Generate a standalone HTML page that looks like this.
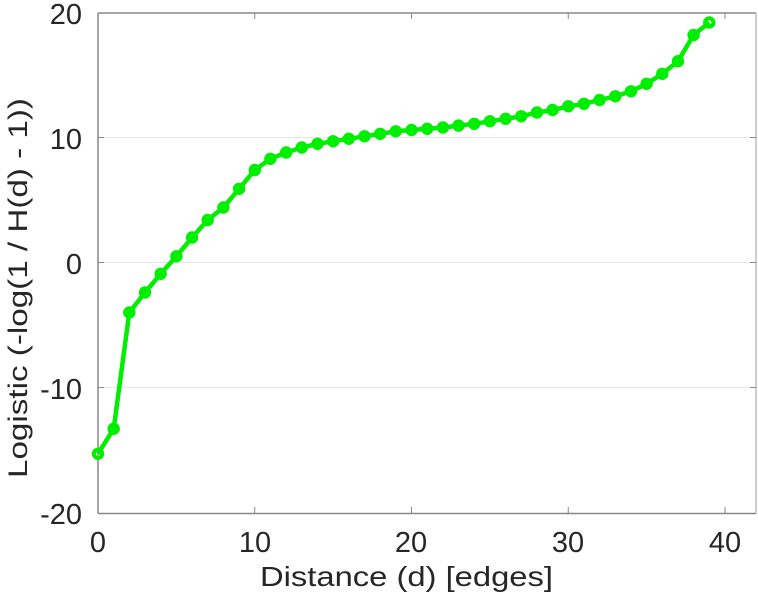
<!DOCTYPE html>
<html><head><style>body{margin:0;background:#fff}svg{display:block}</style></head>
<body>
<svg id="s" width="758" height="600" xmlns="http://www.w3.org/2000/svg" font-family="Liberation Sans, sans-serif" fill="#262626">
<g stroke="#e6e6e6" stroke-width="1">
<line x1="98" x2="756" y1="137.5" y2="137.5"/><line x1="98" x2="756" y1="262.5" y2="262.5"/><line x1="98" x2="756" y1="387.5" y2="387.5"/>
</g>
<g stroke="#888" stroke-width="1.5" fill="none">
<line x1="98" y1="13" x2="756" y2="13"/>
<line x1="98" y1="13" x2="98" y2="513.5"/>
<line x1="98" y1="513.5" x2="756" y2="513.5"/>
<line x1="756" y1="13" x2="756" y2="513.5" stroke="#bbb"/>
</g>
<g id="ticks" stroke="#888" stroke-width="1"></g>
<g font-size="29" text-anchor="end">
<text x="82" y="24">20</text><text x="82" y="149">10</text><text x="82" y="274">0</text><text x="82" y="399">-10</text><text x="82" y="524">-20</text>
</g>
<g font-size="29" text-anchor="middle">
<text x="98" y="552">0</text><text x="255" y="552">10</text><text x="411" y="552">20</text><text x="568" y="552">30</text><text x="725" y="552">40</text>
</g>
<text x="260" y="586" font-size="28" textLength="293" lengthAdjust="spacingAndGlyphs">Distance (d) [edges]</text>
<text transform="translate(27,478) rotate(-90)" font-size="27" textLength="380" lengthAdjust="spacingAndGlyphs">Logistic (-log(1 / H(d) - 1))</text>
<polyline id="pl" fill="none" stroke="#00ee00" stroke-width="4.5" stroke-linejoin="round"/>
<g id="pts" fill="none" stroke="#00ee00" stroke-width="4"></g>
</svg>
<script>
var v=[-15.3,-13.3,-4,-2.4,-0.9,0.5,2,3.4,4.4,5.9,7.4,8.3,8.8,9.2,9.5,9.7,9.9,10.1,10.3,10.5,10.6,10.7,10.8,10.95,11.1,11.3,11.5,11.7,12.0,12.2,12.5,12.7,13.0,13.3,13.7,14.3,15.1,16.1,18.2,19.2];
var p=[],g='',t='';
v.forEach(function(y,i){var X=98+i*15.675,Y=262.5-12.5*y;p.push(X.toFixed(1)+','+Y.toFixed(1));g+='<circle cx="'+X.toFixed(1)+'" cy="'+Y.toFixed(1)+'" r="4.2"/>';});
document.getElementById('pl').setAttribute('points',p.join(' '));
document.getElementById('pts').innerHTML=g;
[0,10,20,30,40].forEach(function(d){var X=98+d*15.675;t+='<line x1="'+X+'" x2="'+X+'" y1="513.5" y2="507"/><line x1="'+X+'" x2="'+X+'" y1="13" y2="19"/>';});
[137.5,262.5,387.5].forEach(function(Y){t+='<line x1="98" x2="104" y1="'+Y+'" y2="'+Y+'"/><line x1="756" x2="750" y1="'+Y+'" y2="'+Y+'"/>';});
document.getElementById('ticks').innerHTML=t;
</script>
</body></html>
